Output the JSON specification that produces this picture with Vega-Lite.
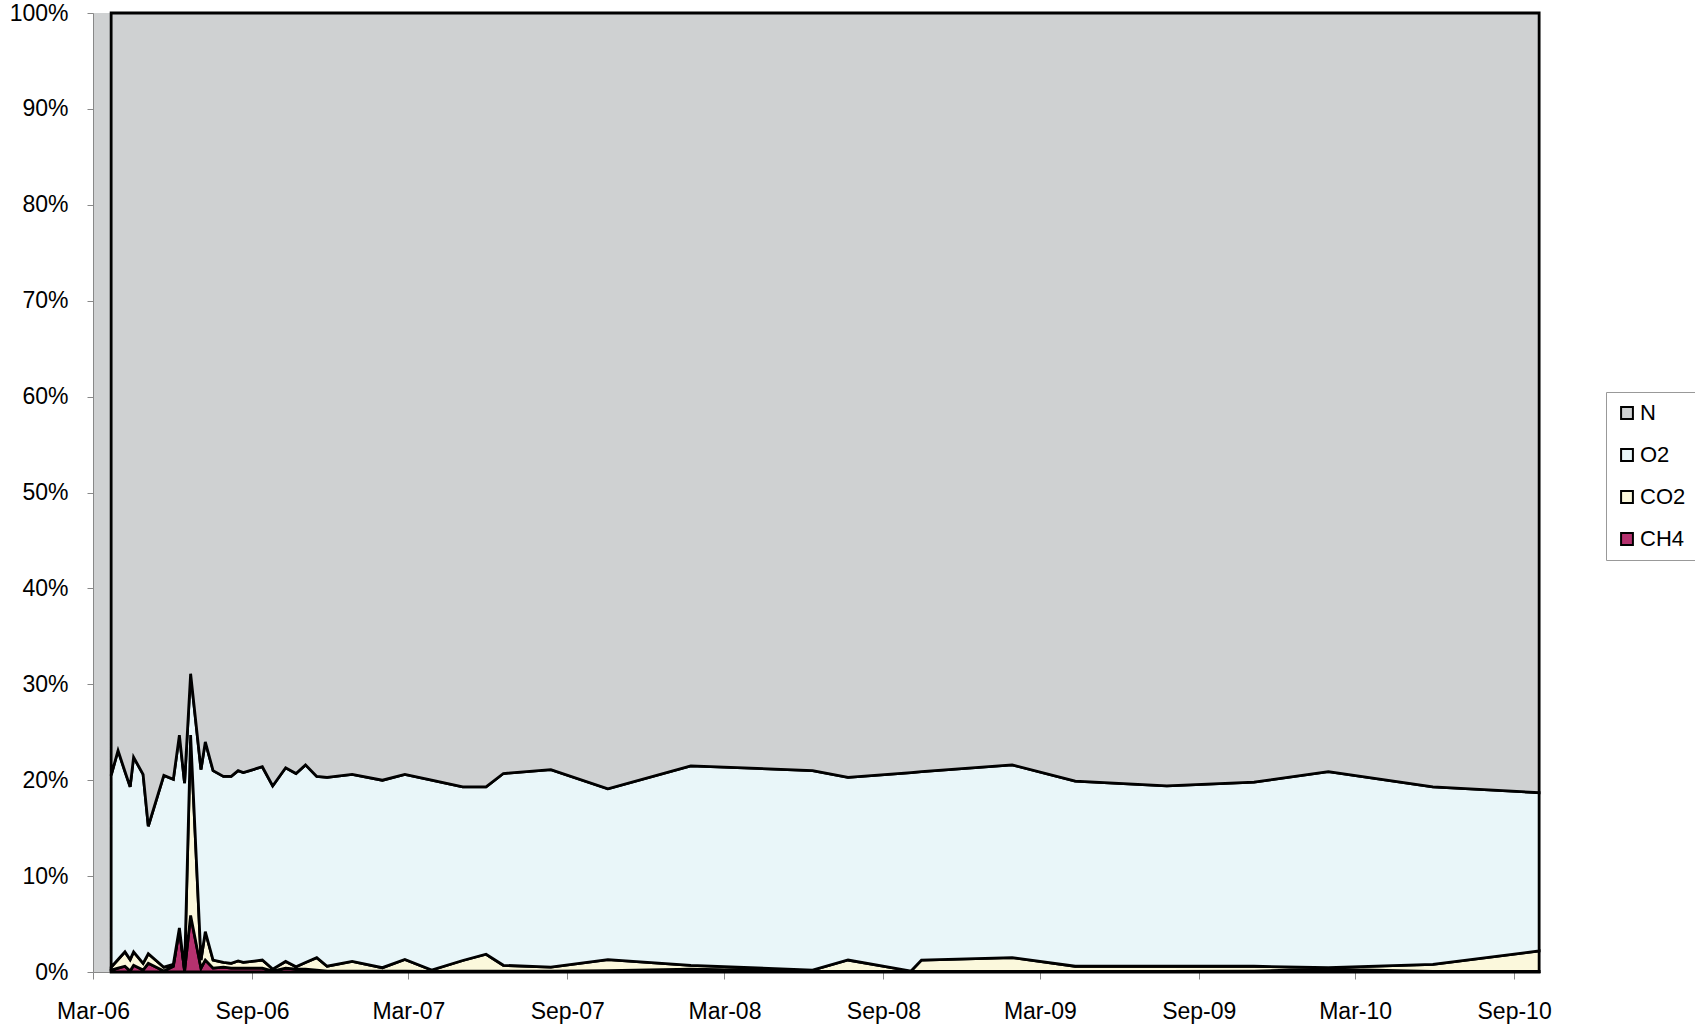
{
  "$schema": "https://vega.github.io/schema/vega-lite/v6.json",
  "width": 1447,
  "height": 959,
  "autosize": {"type": "none"},
  "padding": {"left": 93, "top": 13, "right": 155, "bottom": 55},
  "background": "white",
  "config": {
    "font": "Liberation Sans",
    "view": {"fill": "#cfd1d2", "stroke": null}
  },
  "data": {
    "values": [
      {"date": "2006-03-22", "CH4": 0.2, "CO2": 0.3, "O2": 20.0, "N": 79.5},
      {"date": "2006-03-30", "CH4": 0.4, "CO2": 0.9, "O2": 21.8, "N": 76.9},
      {"date": "2006-04-07", "CH4": 0.6, "CO2": 1.5, "O2": 18.8, "N": 79.1},
      {"date": "2006-04-13", "CH4": 0.1, "CO2": 1.2, "O2": 18.0, "N": 80.7},
      {"date": "2006-04-17", "CH4": 0.7, "CO2": 1.4, "O2": 20.3, "N": 77.6},
      {"date": "2006-04-28", "CH4": 0.2, "CO2": 0.7, "O2": 19.7, "N": 79.4},
      {"date": "2006-05-04", "CH4": 0.9, "CO2": 1.0, "O2": 13.3, "N": 84.8},
      {"date": "2006-05-22", "CH4": 0.1, "CO2": 0.4, "O2": 20.0, "N": 79.5},
      {"date": "2006-06-02", "CH4": 0.6, "CO2": 0.2, "O2": 19.3, "N": 79.9},
      {"date": "2006-06-09", "CH4": 4.5, "CO2": 0.1, "O2": 20.1, "N": 75.3},
      {"date": "2006-06-15", "CH4": 0.1, "CO2": 0.1, "O2": 19.5, "N": 80.3},
      {"date": "2006-06-22", "CH4": 5.9, "CO2": 18.8, "O2": 6.4, "N": 68.9},
      {"date": "2006-07-04", "CH4": 0.4, "CO2": 0.85, "O2": 19.85, "N": 78.9},
      {"date": "2006-07-09", "CH4": 1.25, "CO2": 2.95, "O2": 19.8, "N": 76.0},
      {"date": "2006-07-18", "CH4": 0.4, "CO2": 0.85, "O2": 19.75, "N": 79.0},
      {"date": "2006-07-30", "CH4": 0.5, "CO2": 0.5, "O2": 19.4, "N": 79.6},
      {"date": "2006-08-08", "CH4": 0.4, "CO2": 0.5, "O2": 19.5, "N": 79.6},
      {"date": "2006-08-16", "CH4": 0.4, "CO2": 0.75, "O2": 19.85, "N": 79.0},
      {"date": "2006-08-22", "CH4": 0.4, "CO2": 0.6, "O2": 19.8, "N": 79.2},
      {"date": "2006-09-13", "CH4": 0.4, "CO2": 0.85, "O2": 20.15, "N": 78.6},
      {"date": "2006-09-25", "CH4": 0.1, "CO2": 0.2, "O2": 19.1, "N": 80.6},
      {"date": "2006-10-10", "CH4": 0.4, "CO2": 0.7, "O2": 20.2, "N": 78.7},
      {"date": "2006-10-22", "CH4": 0.3, "CO2": 0.25, "O2": 20.15, "N": 79.3},
      {"date": "2006-11-02", "CH4": 0.3, "CO2": 0.7, "O2": 20.6, "N": 78.4},
      {"date": "2006-11-15", "CH4": 0.2, "CO2": 1.3, "O2": 18.9, "N": 79.6},
      {"date": "2006-11-27", "CH4": 0.1, "CO2": 0.5, "O2": 19.7, "N": 79.7},
      {"date": "2006-12-26", "CH4": 0.1, "CO2": 1.0, "O2": 19.5, "N": 79.4},
      {"date": "2007-01-30", "CH4": 0.1, "CO2": 0.35, "O2": 19.55, "N": 80.0},
      {"date": "2007-02-25", "CH4": 0.1, "CO2": 1.2, "O2": 19.3, "N": 79.4},
      {"date": "2007-03-28", "CH4": 0.05, "CO2": 0.15, "O2": 19.8, "N": 80.0},
      {"date": "2007-05-03", "CH4": 0.1, "CO2": 1.1, "O2": 18.1, "N": 80.7},
      {"date": "2007-05-30", "CH4": 0.1, "CO2": 1.75, "O2": 17.45, "N": 80.7},
      {"date": "2007-06-19", "CH4": 0.1, "CO2": 0.6, "O2": 20.0, "N": 79.3},
      {"date": "2007-08-13", "CH4": 0.1, "CO2": 0.4, "O2": 20.6, "N": 78.9},
      {"date": "2007-10-18", "CH4": 0.15, "CO2": 1.15, "O2": 17.8, "N": 80.9},
      {"date": "2008-01-22", "CH4": 0.3, "CO2": 0.4, "O2": 20.8, "N": 78.5},
      {"date": "2008-06-11", "CH4": 0.1, "CO2": 0.1, "O2": 20.8, "N": 79.0},
      {"date": "2008-07-22", "CH4": 0.05, "CO2": 1.2, "O2": 19.05, "N": 79.7},
      {"date": "2008-10-03", "CH4": 0.05, "CO2": 0.05, "O2": 20.7, "N": 79.2},
      {"date": "2008-10-15", "CH4": 0.05, "CO2": 1.2, "O2": 19.65, "N": 79.1},
      {"date": "2009-01-28", "CH4": 0.05, "CO2": 1.45, "O2": 20.1, "N": 78.4},
      {"date": "2009-04-11", "CH4": 0.05, "CO2": 0.55, "O2": 19.3, "N": 80.1},
      {"date": "2009-07-26", "CH4": 0.05, "CO2": 0.55, "O2": 18.8, "N": 80.6},
      {"date": "2009-11-04", "CH4": 0.1, "CO2": 0.5, "O2": 19.2, "N": 80.2},
      {"date": "2010-01-29", "CH4": 0.3, "CO2": 0.15, "O2": 20.45, "N": 79.1},
      {"date": "2010-05-30", "CH4": 0.05, "CO2": 0.75, "O2": 18.5, "N": 80.7},
      {"date": "2010-09-30", "CH4": 0.05, "CO2": 2.15, "O2": 16.5, "N": 81.3}
    ]
  },
  "transform": [
    {"fold": ["CH4", "CO2", "O2", "N"], "as": ["gas", "value"]},
    {"calculate": "indexof(['CH4','CO2','O2','N'], datum.gas)", "as": "ord"}
  ],
  "mark": {"type": "area", "stroke": "black", "strokeWidth": 2.8, "strokeJoin": "miter", "interpolate": "linear"},
  "encoding": {
    "x": {
      "field": "date",
      "type": "temporal",
      "scale": {
        "type": "utc",
        "domain": [
          {"year": 2006, "month": 3, "date": 1, "utc": true},
          {"year": 2010, "month": 10, "date": 1, "utc": true}
        ],
        "nice": false
      },
      "axis": {
        "title": null,
        "grid": false,
        "values": [
          {"year": 2006, "month": 3, "date": 1, "utc": true},
          {"year": 2006, "month": 9, "date": 1, "utc": true},
          {"year": 2007, "month": 3, "date": 1, "utc": true},
          {"year": 2007, "month": 9, "date": 1, "utc": true},
          {"year": 2008, "month": 3, "date": 1, "utc": true},
          {"year": 2008, "month": 9, "date": 1, "utc": true},
          {"year": 2009, "month": 3, "date": 1, "utc": true},
          {"year": 2009, "month": 9, "date": 1, "utc": true},
          {"year": 2010, "month": 3, "date": 1, "utc": true},
          {"year": 2010, "month": 9, "date": 1, "utc": true}
        ],
        "labelExpr": "utcFormat(datum.value, '%b-%y')",
        "labelFontSize": 23,
        "labelColor": "black",
        "labelPadding": 21,
        "labelFlush": false,
        "labelOverlap": false,
        "tickSize": 7,
        "tickColor": "#888",
        "domainColor": "#888",
        "domainWidth": 1
      }
    },
    "y": {
      "field": "value",
      "type": "quantitative",
      "stack": "zero",
      "scale": {"domain": [0, 100], "nice": false},
      "axis": {
        "title": null,
        "grid": false,
        "values": [0, 10, 20, 30, 40, 50, 60, 70, 80, 90, 100],
        "labelExpr": "datum.value + '%'",
        "labelFontSize": 23,
        "labelColor": "black",
        "labelPadding": 19,
        "tickSize": 6,
        "tickColor": "#888",
        "domainColor": "#888",
        "domainWidth": 1
      }
    },
    "color": {
      "field": "gas",
      "type": "nominal",
      "scale": {
        "domain": ["N", "O2", "CO2", "CH4"],
        "range": ["#cfd1d2", "#e9f6f9", "#fbf8dc", "#b5326f"]
      },
      "legend": {
        "title": null,
        "orient": "none",
        "legendX": 1513,
        "legendY": 379,
        "symbolType": "square",
        "symbolSize": 140,
        "symbolStrokeColor": "black",
        "symbolStrokeWidth": 2,
        "symbolOpacity": 1,
        "labelFontSize": 22,
        "labelColor": "black",
        "labelOffset": 2,
        "rowPadding": 20,
        "padding": 10,
        "strokeColor": "#999",
        "fillColor": "white"
      }
    },
    "order": {"field": "ord", "type": "quantitative"}
  }
}
